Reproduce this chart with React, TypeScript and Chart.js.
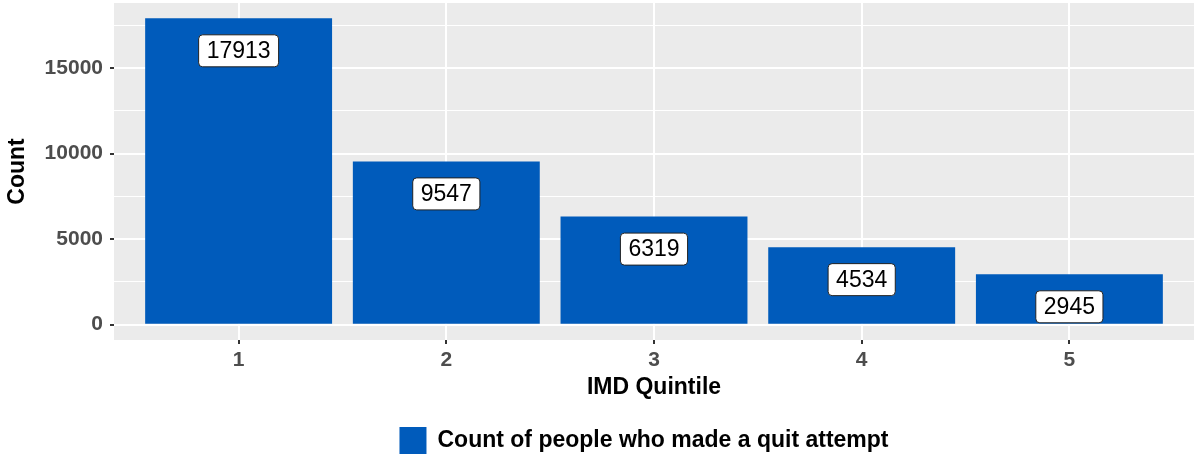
import { useEffect, useRef } from "react"
import { Chart, type ChartConfiguration, type Plugin, registerables } from "chart.js"

Chart.register(...registerables)

// data
const quintiles = ["1", "2", "3", "4", "5"]
const quitAttempts = [17913, 9547, 6319, 4534, 2945]
const majorTicks = [0, 5000, 10000, 15000]
const minorTicks = [2500, 7500, 12500, 17500]
const seriesLabel = "Count of people who made a quit attempt"

const barColor = "#005BBB"
const panelColor = "#EBEBEB"
const font = "'Liberation Sans', Arial, sans-serif"

// labels sit a little below the top of each bar (ggplot nudge_y)
const labelNudge = 1900

const panelBackground: Plugin<"bar"> = {
  id: "panelBackground",
  beforeDraw(chart) {
    const { ctx, chartArea } = chart
    ctx.save()
    ctx.fillStyle = panelColor
    ctx.fillRect(chartArea.left, chartArea.top, chartArea.right - chartArea.left, chartArea.bottom - chartArea.top)
    ctx.restore()
  },
}

const valueLabels: Plugin<"bar"> = {
  id: "valueLabels",
  afterDatasetsDraw(chart) {
    const { ctx } = chart
    const meta = chart.getDatasetMeta(0)
    const yScale = chart.scales.y
    ctx.save()
    ctx.font = `23px ${font}`
    ctx.textAlign = "center"
    ctx.textBaseline = "middle"
    meta.data.forEach((bar, i) => {
      const value = quitAttempts[i]
      const text = String(value)
      const cx = bar.x
      const cy = yScale.getPixelForValue(value - labelNudge)
      const w = ctx.measureText(text).width + 16
      const h = 32
      ctx.beginPath()
      ctx.roundRect(cx - w / 2, cy - h / 2, w, h, 4)
      ctx.fillStyle = "#FFFFFF"
      ctx.fill()
      ctx.lineWidth = 1
      ctx.strokeStyle = "#222222"
      ctx.stroke()
      ctx.fillStyle = "#000000"
      ctx.fillText(text, cx, cy + 1)
    })
    ctx.restore()
  },
}

const bottomLegend: Plugin<"bar"> = {
  id: "bottomLegend",
  afterDraw(chart) {
    const { ctx, chartArea } = chart
    ctx.save()
    ctx.font = `bold 23px ${font}`
    const textW = ctx.measureText(seriesLabel).width
    const box = 27
    const gap = 11
    const total = box + gap + textW
    const left = (chartArea.left + chartArea.right) / 2 - 10 - total / 2
    const cy = chart.height - 20.5
    ctx.fillStyle = barColor
    ctx.fillRect(left, cy - box / 2, box, box)
    ctx.fillStyle = "#000000"
    ctx.textBaseline = "middle"
    ctx.textAlign = "left"
    ctx.fillText(seriesLabel, left + box + gap, cy)
    ctx.restore()
  },
}

export default function App() {
  const chartRef = useRef<HTMLCanvasElement>(null)
  const chartInstance = useRef<Chart<"bar">>()

  useEffect(() => {
    document.body.style.margin = "0"
    if (!chartRef.current) return
    if (chartInstance.current) chartInstance.current.destroy()
    const ctx = chartRef.current.getContext("2d")
    if (!ctx) return

    const yMax = Math.max(...quitAttempts)
    const yPad = yMax * 0.05

    chartInstance.current = new Chart(ctx, {
      type: "bar",
      data: {
        datasets: [
          {
            label: seriesLabel,
            data: quitAttempts.map((v, i) => ({ x: i + 1, y: v })),
            backgroundColor: barColor,
            borderWidth: 0,
            barPercentage: 0.9,
            categoryPercentage: 1,
          },
        ],
      },
      options: {
        animation: false,
        responsive: true,
        maintainAspectRatio: false,
        layout: { padding: { top: 3, right: 6, left: 0, bottom: 0 } },
        plugins: {
          legend: { display: false },
          tooltip: { enabled: false },
        },
        scales: {
          x: {
            type: "linear",
            offset: false,
            min: 0.4,
            max: quintiles.length + 0.6,
            afterBuildTicks(scale) {
              scale.ticks = quintiles.map((_, i) => ({ value: i + 1 }))
            },
            afterFit(scale) {
              scale.height = 121
              scale.paddingLeft = 0
              scale.paddingRight = 0
            },
            border: { display: false },
            grid: {
              offset: false,
              color: "#FFFFFF",
              lineWidth: 2,
              tickColor: "#333333",
              tickLength: 4,
              tickWidth: 2,
            },
            ticks: {
              padding: 4,
              color: "#4D4D4D",
              font: { family: font, size: 21, weight: "bold" },
              callback: (v) => quintiles[Number(v) - 1] ?? "",
            },
            title: {
              display: true,
              text: "IMD Quintile",
              color: "#000000",
              font: { family: font, size: 23, weight: "bold" },
              padding: { top: 0, bottom: 60 },
            },
          },
          y: {
            min: -yPad,
            max: yMax + yPad,
            afterBuildTicks(scale) {
              scale.ticks = [...majorTicks, ...minorTicks].sort((a, b) => a - b).map((value) => ({ value }))
            },
            afterFit(scale) {
              scale.width = 114
              scale.paddingTop = 0
              scale.paddingBottom = 0
            },
            border: { display: false },
            grid: {
              color: "#FFFFFF",
              lineWidth: (c) => (majorTicks.includes(c.tick.value) ? 2 : 1),
              tickColor: (c) => (majorTicks.includes(c.tick.value) ? "#333333" : "rgba(0,0,0,0)"),
              tickLength: 4,
              tickWidth: 2,
            },
            ticks: {
              padding: 7,
              color: "#4D4D4D",
              font: { family: font, size: 21, weight: "bold" },
              callback: (v) => (majorTicks.includes(Number(v)) ? String(v) : ""),
            },
            title: {
              display: true,
              text: "Count",
              color: "#000000",
              font: { family: font, size: 23, weight: "bold" },
              padding: { top: 4, bottom: 0 },
            },
          },
        },
      },
      plugins: [panelBackground, valueLabels, bottomLegend],
    } as ChartConfiguration<"bar">)

    return () => {
      if (chartInstance.current) {
        chartInstance.current.destroy()
        chartInstance.current = undefined
      }
    }
  }, [])

  return (
    <div style={{ position: "relative", width: 1200, height: 461 }}>
      <canvas ref={chartRef} />
    </div>
  )
}
